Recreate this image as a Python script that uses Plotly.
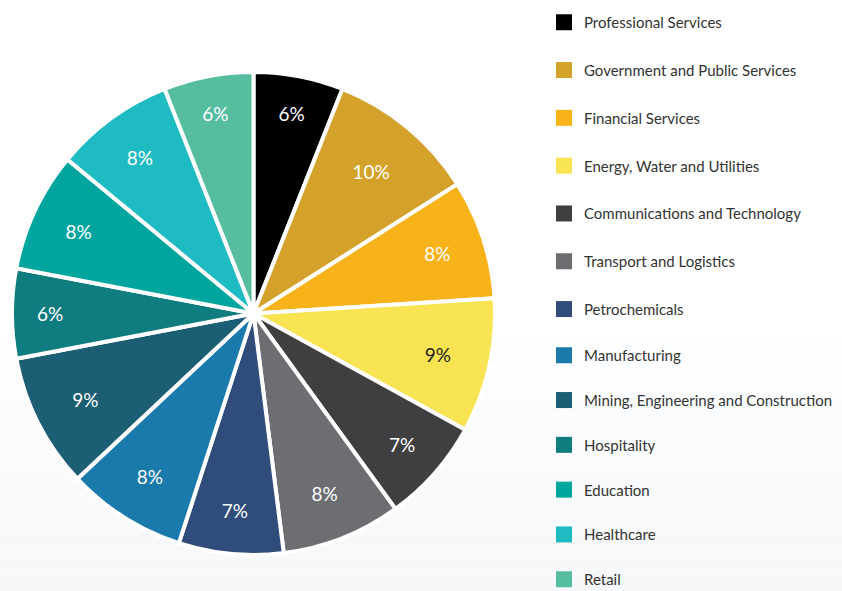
import plotly.graph_objects as go

categories = [
    "Professional Services", "Government and Public Services", "Financial Services",
    "Energy, Water and Utilities", "Communications and Technology", "Transport and Logistics",
    "Petrochemicals", "Manufacturing", "Mining, Engineering and Construction",
    "Hospitality", "Education", "Healthcare", "Retail",
]
shares = [6, 10, 8, 9, 7, 8, 7, 8, 9, 6, 8, 8, 6]
colors = [
    "#000000", "#d4a22a", "#f8b31b", "#f8e453", "#3f3f41", "#6d6e71",
    "#2f4c7a", "#1a7aab", "#1c5e73", "#0f7d80", "#00a59d", "#1fbbc3", "#56bd9f",
]
text_colors = ["#ffffff"] * 3 + ["#231f20"] + ["#ffffff"] * 9

W, H = 842, 591
fig = go.Figure()

# subtle background gradient (decoration)
n_strip = 24
for i in range(n_strip):
    y0 = 0.45 * i / n_strip
    y1 = 0.45 * (i + 1) / n_strip
    t = 1 - (i + 0.5) / n_strip
    g = round(255 - 8 * t)
    fig.add_shape(type="rect", xref="paper", yref="paper", x0=0, x1=1, y0=y0, y1=y1,
                  fillcolor=f"rgb({g-1},{g},{min(g+1, 255)})", line_width=0, layer="below")

fig.add_trace(go.Pie(
    labels=categories, values=shares, sort=False, direction="clockwise", rotation=0,
    marker=dict(colors=colors, line=dict(color="#ffffff", width=4)),
    texttemplate="%{value}%", textinfo="text", textposition="inside",
    insidetextorientation="horizontal",
    textfont=dict(family="Lato", size=19, color=text_colors),
    showlegend=False, hoverinfo="label+percent",
    domain=dict(x=[12 / W, 495 / W], y=[(H - 555) / H, (H - 72) / H]),
))

for i, (cat, col) in enumerate(zip(categories, colors)):
    fig.add_trace(go.Scatter(
        x=[None], y=[None], mode="markers", name=cat, legendgroup=cat,
        legend="legend" if i < 7 else "legend2",
        marker=dict(symbol="square", size=16, color=col),
    ))

legend_font = dict(family="Lato", size=15, color="#333333")
fig.update_layout(
    width=W, height=H, margin=dict(l=0, r=0, t=0, b=0, autoexpand=False),
    paper_bgcolor="#ffffff", plot_bgcolor="rgba(0,0,0,0)",
    xaxis=dict(visible=False), yaxis=dict(visible=False),
    legend=dict(x=544 / W, y=1.0 - 6 / H, xanchor="left", yanchor="top",
                font=legend_font, tracegroupgap=25.3,
                bgcolor="rgba(0,0,0,0)", itemclick=False),
    legend2=dict(x=544 / W, y=1.0 - 339 / H, xanchor="left", yanchor="top",
                 font=legend_font, tracegroupgap=22.3,
                 bgcolor="rgba(0,0,0,0)", itemclick=False),
)

fig.write_html(
    "out.html",
    config={"displayModeBar": False},
    post_script="document.body.style.margin='0';document.body.style.overflow='hidden';",
)
